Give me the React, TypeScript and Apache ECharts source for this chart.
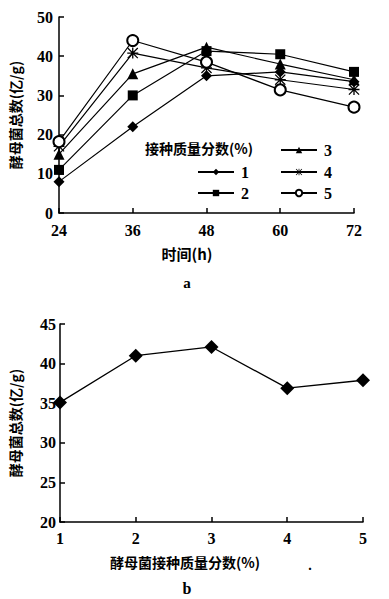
import React, { useEffect, useRef } from "react";
import * as echarts from "echarts";

const hours = [24, 36, 48, 60, 72];
const seriesNames = ["1", "2", "3", "4", "5"];
const dose1 = [8, 22, 35, 36, 33.5];
const dose2 = [11, 30, 41.3, 40.5, 36];
const dose3 = [15, 35.5, 42.3, 38, 34];
const dose4 = [17, 40.8, 37, 34, 31.5];
const dose5 = [18.2, 44, 38.5, 31.4, 27];

const doses = [1, 2, 3, 4, 5];
const totals48 = [35.1, 41, 42.1, 36.9, 37.9];

const yTitle = "酵母菌总数(亿/g)";
const xTitleA = "时间(h)";
const xTitleB = "酵母菌接种质量分数(%)";
const legendTitle = "接种质量分数(%)";

const STAR =
  "path://M0,4.4L10,4.4L10,5.6L0,5.6Z M4.4,0L5.6,0L5.6,10L4.4,10Z M0,0.8L0.8,0L10,9.2L9.2,10Z M9.2,0L10,0.8L0.8,10L0,9.2Z";

const NUM_FONT = "'Liberation Serif', 'DejaVu Serif', serif";
const CJK_FONT = "'Noto Sans CJK SC', sans-serif";

export default function App() {
  const ref = useRef<HTMLDivElement>(null);
  useEffect(() => {
    const chart = echarts.init(ref.current!, null, { renderer: "svg" });
    const allA = [dose1, dose2, dose3, dose4, dose5];
    const symbols = ["diamond", "rect", "triangle", STAR, "emptyCircle"];
    const sizes = [11, 10, 11, 11, 11];

    const axisCommon = {
      axisLine: { show: true, lineStyle: { color: "#000", width: 1.5 } },
      axisTick: { show: true, inside: true, length: 5, lineStyle: { color: "#000", width: 1.5 } },
      splitLine: { show: false },
      axisLabel: { color: "#000", fontFamily: NUM_FONT, fontWeight: "bold", fontSize: 16 },
    };

    const seriesA = allA.map((vals, i) => ({
      name: seriesNames[i],
      type: "line",
      xAxisIndex: 0,
      yAxisIndex: 0,
      data: hours.map((h, j) => [h, vals[j]]),
      symbol: symbols[i],
      symbolSize: sizes[i],
      showSymbol: true,
      lineStyle: { color: "#000", width: 1.2 },
      itemStyle: { color: "#000", borderColor: "#000", borderWidth: i === 4 ? 1.3 : 0 },
      z: 2 + i,
    }));

    const legendPos = [
      { left: 197, top: 164 },
      { left: 197, top: 185 },
      { left: 280, top: 142 },
      { left: 280, top: 164 },
      { left: 280, top: 185 },
    ];
    const legends = seriesNames.map((n, i) => ({
      data: [n],
      left: legendPos[i].left,
      top: legendPos[i].top,
      orient: "horizontal",
      itemWidth: 36,
      itemHeight: 8,
      itemGap: 0,
      padding: 0,
      textStyle: { color: "#000", fontFamily: NUM_FONT, fontWeight: "bold", fontSize: 16, padding: [0, 0, 0, 2] },
      selectedMode: false,
    }));

    chart.setOption({
      animation: false,
      backgroundColor: "#fff",
      grid: [
        { left: 54, top: 17, width: 300, height: 196 },
        { left: 48, top: 324, width: 315, height: 198 },
      ],
      xAxis: [
        {
          ...axisCommon,
          type: "value",
          gridIndex: 0,
          min: 24,
          max: 72,
          interval: 12,
          axisLabel: { ...axisCommon.axisLabel, margin: 9 },
        },
        {
          ...axisCommon,
          type: "value",
          gridIndex: 1,
          min: 1,
          max: 5,
          interval: 1,
          axisLabel: { ...axisCommon.axisLabel, margin: 8 },
        },
      ],
      yAxis: [
        {
          ...axisCommon,
          type: "value",
          gridIndex: 0,
          min: 0,
          max: 50,
          interval: 10,
          name: yTitle,
          nameLocation: "middle",
          nameGap: 37,
          nameTextStyle: { color: "#000", fontFamily: CJK_FONT, fontWeight: "bold", fontSize: 14 },
          axisLabel: { ...axisCommon.axisLabel, margin: 6 },
        },
        {
          ...axisCommon,
          type: "value",
          gridIndex: 1,
          min: 20,
          max: 45,
          interval: 5,
          name: yTitle,
          nameLocation: "middle",
          nameGap: 38,
          nameTextStyle: { color: "#000", fontFamily: CJK_FONT, fontWeight: "bold", fontSize: 14 },
          axisLabel: { ...axisCommon.axisLabel, margin: 4 },
        },
      ],
      legend: legends,
      series: [
        ...seriesA,
        {
          name: "b",
          type: "line",
          xAxisIndex: 1,
          yAxisIndex: 1,
          data: doses.map((d, j) => [d, totals48[j]]),
          symbol: "diamond",
          symbolSize: 14,
          lineStyle: { color: "#000", width: 1.3 },
          itemStyle: { color: "#000" },
        },
      ],
      graphic: [
        {
          type: "text",
          left: 145,
          top: 141,
          style: { text: legendTitle, fill: "#000", font: `bold 14px ${CJK_FONT}` },
        },
        {
          type: "text",
          x: 187,
          y: 253,
          style: { text: xTitleA, fill: "#000", font: `bold 15px ${CJK_FONT}`, align: "center", verticalAlign: "middle" },
        },
        {
          type: "text",
          x: 187,
          y: 283,
          style: { text: "a", fill: "#000", font: `bold 15px ${NUM_FONT}`, align: "center", verticalAlign: "middle" },
        },
        {
          type: "text",
          x: 185,
          y: 562,
          style: { text: xTitleB, fill: "#000", font: `bold 14px ${CJK_FONT}`, align: "center", verticalAlign: "middle" },
        },
        {
          type: "text",
          x: 310,
          y: 565,
          style: { text: ".", fill: "#000", font: `bold 14px ${NUM_FONT}`, align: "center", verticalAlign: "middle" },
        },
        {
          type: "text",
          x: 187,
          y: 588,
          style: { text: "b", fill: "#000", font: `bold 16px ${NUM_FONT}`, align: "center", verticalAlign: "middle" },
        },
      ],
    });
    return () => chart.dispose();
  }, []);
  return (
    <div
      ref={ref}
      style={{ position: "fixed", left: 0, top: 0, width: 389, height: 599, background: "#fff" }}
    />
  );
}
